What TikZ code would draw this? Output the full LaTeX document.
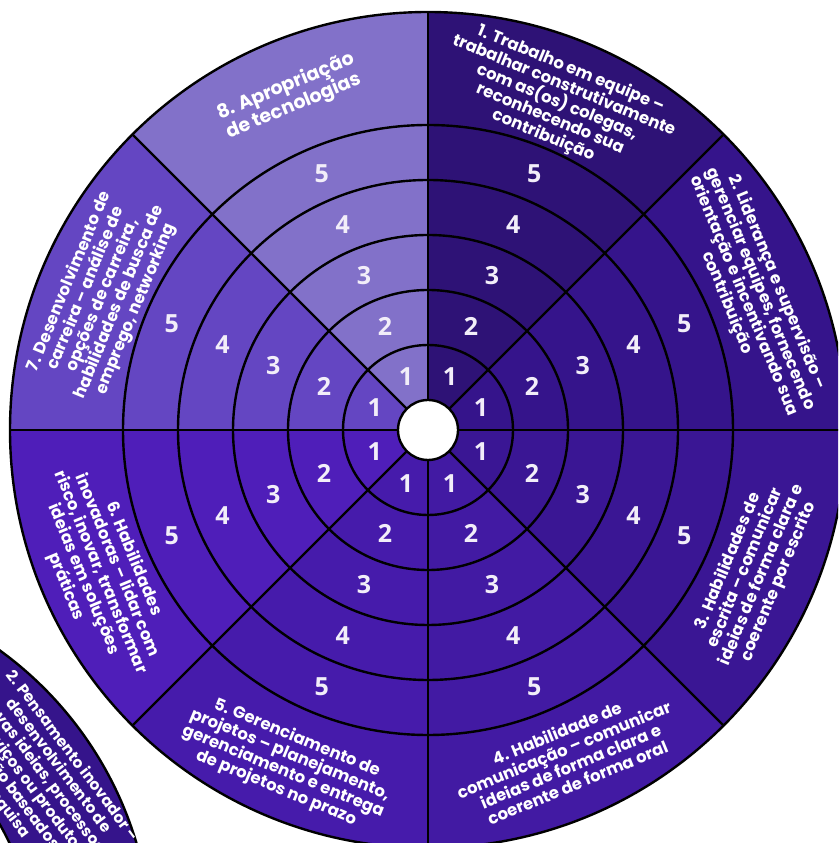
\documentclass[tikz,border=0pt]{standalone}
\usepackage{fontspec}
\setmainfont{Poppins}
\newfontfamily\numfont{Open Sans}
\usepackage{tikz}
\usetikzlibrary{positioning, calc}
\definecolor{secOne}{HTML}{2E1276}
\definecolor{secTwo}{HTML}{35148B}
\definecolor{secThree}{HTML}{3A1694}
\definecolor{secFour}{HTML}{421AA3}
\definecolor{secFive}{HTML}{461BAB}
\definecolor{secSix}{HTML}{4F1EB9}
\definecolor{secSeven}{HTML}{6446C2}
\definecolor{secEight}{HTML}{8271C9}
\definecolor{scorewhite}{HTML}{F2EEF9}
\tikzstyle{ring} = [draw=black, line width=2.4pt]
\tikzstyle{skill} = [text=white, align=center, inner sep=0pt,
    font=\bfseries\fontsize{16.5}{18}\selectfont]
\tikzstyle{bigskill} = [skill, font=\bfseries\fontsize{19}{20}\selectfont]
\tikzstyle{smallskill} = [skill, font=\bfseries\fontsize{15.5}{17}\selectfont]
\tikzstyle{score} = [text=scorewhite, inner sep=0pt,
    font=\numfont\bfseries\fontsize{25}{25}\selectfont]

\begin{document}
\begin{tikzpicture}[x=1pt, y=1pt]
                \useasboundingbox (0,0) rectangle (838,843);
                \clip (0,0) rectangle (838,843);
                \coordinate (O) at (428,413);
                \coordinate (P) at (-217,-106);

                % Second wheel (cut off)
                \filldraw [fill=secTwo, ring] ($(P)+(12:250)$) arc[start angle=12, end angle=88, radius=250]
                    -- ($(P)+(88:369)$) arc[start angle=88, end angle=12, radius=369] -- cycle;
                \node [smallskill, rotate=-53] (frag) at ($(P)+(33.3:305)$) {2. Pensamento inovador –\\desenvolvimento de\\novas ideias, processos,\\serviços ou produtos\\estão baseados\\pesquisa};

                % Sectors
                \fill [secTwo] (O) -- ++(0:418) arc[start angle=0, end angle=45, radius=418] -- cycle;
                \fill [secOne] (O) -- ++(45:418) arc[start angle=45, end angle=90, radius=418] -- cycle;
                \fill [secEight] (O) -- ++(90:418) arc[start angle=90, end angle=135, radius=418] -- cycle;
                \fill [secSeven] (O) -- ++(135:418) arc[start angle=135, end angle=180, radius=418] -- cycle;
                \fill [secSix] (O) -- ++(180:418) arc[start angle=180, end angle=225, radius=418] -- cycle;
                \fill [secFive] (O) -- ++(225:418) arc[start angle=225, end angle=270, radius=418] -- cycle;
                \fill [secFour] (O) -- ++(270:418) arc[start angle=270, end angle=315, radius=418] -- cycle;
                \fill [secThree] (O) -- ++(315:418) arc[start angle=315, end angle=360, radius=418] -- cycle;

                % Rings and spokes
                \draw [ring] (O) circle[radius=85];
                \draw [ring] (O) circle[radius=140];
                \draw [ring] (O) circle[radius=195];
                \draw [ring] (O) circle[radius=250];
                \draw [ring] (O) circle[radius=305];
                \draw [ring] (O) circle[radius=418];
                \draw [ring] (O) +(0:418) -- +(180:418);
                \draw [ring] (O) +(45:418) -- +(225:418);
                \draw [ring] (O) +(90:418) -- +(270:418);
                \draw [ring] (O) +(135:418) -- +(315:418);
                \node [circle, fill=white, draw=black, line width=2.4pt, minimum size=60pt, inner sep=0pt] (hub) at (O) {};

                % Scores
                \foreach \a [count=\s] in {22.5,67.5,...,337.5}
                    \foreach \r [count=\k] in {57.5,112.5,167.5,222.5,277.5}
                        \node [score] (n\s-\k) at ($(O)+(\a:\r)$) {\k};

                % Skill labels
                \node [skill, rotate=-22.5] (lab1) at ($(O)+(68.5:352)$) {1. Trabalho em equipe –\\trabalhar construtivamente\\com as(os) colegas,\\reconhecendo sua\\contribuição};
                \node [skill, rotate=-67.5] (lab2) at ($(O)+(23:352)$) {2. Liderança e supervisão –\\gerenciar equipes, fornecendo\\orientação e incentivando sua\\contribuição};
                \node [skill, rotate=67.5] (lab3) at ($(O)+(-23.5:355)$) {3. Habilidades de\\escrita – comunicar\\ideias de forma clara e\\coerente por escrito};
                \node [skill, rotate=22.5] (lab4) at ($(O)+(-67:356)$) {4. Habilidade de\\comunicação – comunicar\\ideias de forma clara e\\coerente de forma oral};
                \node [skill, rotate=-22.5] (lab5) at ($(O)+(-113:362)$) {5. Gerenciamento de\\projetos – planejamento,\\gerenciamento e entrega\\de projetos no prazo};
                \node [skill, rotate=-67.5] (lab6) at ($(O)+(-156.5:358)$) {6. Habilidades\\inovadoras – lidar com\\risco, inovar, transformar\\ideias em soluções\\práticas};
                \node [skill, rotate=67.5] (lab7) at ($(O)+(157.5:352)$) {7. Desenvolvimento de\\carreira – análise de\\opções de carreira,\\habilidades de busca de\\emprego, networking};
                \node [bigskill, rotate=22.5] (lab8) at ($(O)+(112.5:361)$) {8. Apropriação\\de tecnologias};

            \end{tikzpicture}
\end{document}
